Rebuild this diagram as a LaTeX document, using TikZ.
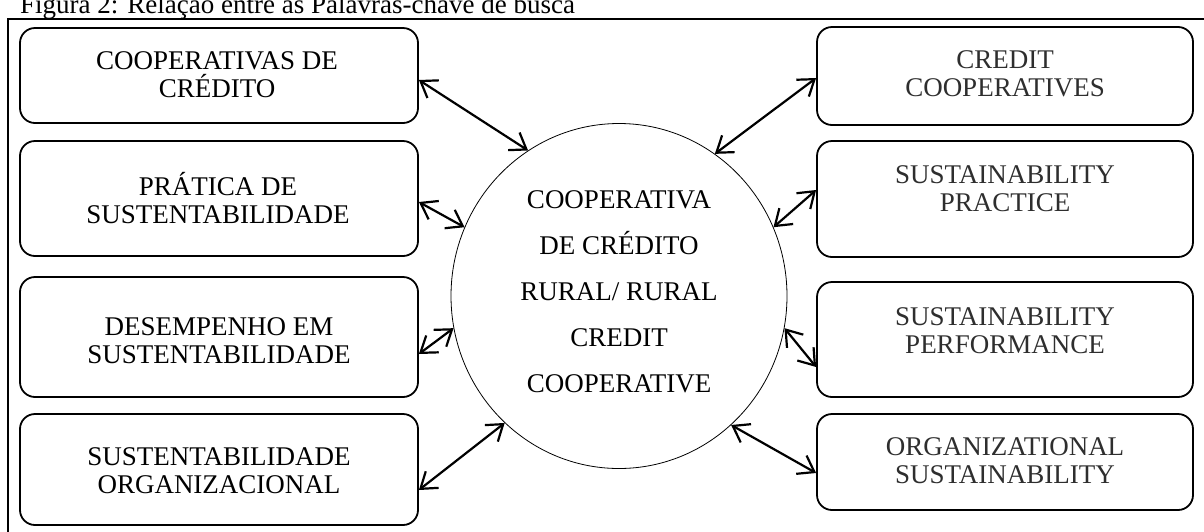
\documentclass[tikz,border=0pt]{standalone}
\usepackage{fontspec}
\setmainfont{Liberation Serif}
\usetikzlibrary{shapes.geometric,arrows.meta}
\tikzset{
  kbox/.style={draw, line width=1.8pt, rounded corners=15pt, minimum width=398pt, inner sep=0pt},
  rbox/.style={draw, line width=1.8pt, rounded corners=15pt, minimum width=376pt, inner sep=0pt},
  ltext/.style={align=center, inner sep=0pt, font=\fontsize{27}{28}\selectfont},
  rtext/.style={align=center, inner sep=0pt, text=black!82, font=\fontsize{27}{28}\selectfont},
  link/.style={line width=2.2pt, {Straight Barb[length=15pt,width=21pt]}-{Straight Barb[length=15pt,width=21pt]}},
}
\begin{document}
\begin{tikzpicture}[x=1pt,y=-1pt]
\useasboundingbox (0,0) rectangle (1204,531);
% title (cut at top)
\node[anchor=base west, inner sep=0pt, font=\fontsize{27}{30}\selectfont] (title) at (20,13) {Figura 2: Relação entre as Palavras-chave de busca};
% frame
\draw[line width=1.6pt] (8,550) -- (8,19) -- (1220,19);
% left boxes
\node[kbox, minimum height=95pt]  (b1) at (219,75.5) {};
\node[kbox, minimum height=115pt] (b2) at (219,198.5) {};
\node[kbox, minimum height=120pt] (b3) at (219,337) {};
\node[kbox, minimum height=111pt] (b4) at (219,469.5) {};
% right boxes
\node[rbox, minimum height=98pt]  (r1) at (1005,76) {};
\node[rbox, minimum height=116pt] (r2) at (1005,199) {};
\node[rbox, minimum height=115pt] (r3) at (1005,339.5) {};
\node[rbox, minimum height=96pt]  (r4) at (1005,462) {};
% texts
\node[ltext] (t1) at (217,75) {COOPERATIVAS DE\\CRÉDITO};
\node[ltext] (t2) at (218,198) {PRÁTICA DE\\SUSTENTABILIDADE};
\node[ltext] (t3) at (219,341) {DESEMPENHO EM\\SUSTENTABILIDADE};
\node[ltext] (t4) at (219,471) {SUSTENTABILIDADE\\ORGANIZACIONAL};
\node[rtext] (u1) at (1005,73.5) {CREDIT\\COOPERATIVES};
\node[rtext] (u2) at (1005,189) {SUSTAINABILITY\\PRACTICE};
\node[rtext] (u3) at (1005,330.5) {SUSTAINABILITY\\PERFORMANCE};
\node[rtext] (u4) at (1005,460.5) {ORGANIZATIONAL\\SUSTAINABILITY};
% centre
\node[draw, ellipse, line width=0.8pt, minimum width=336pt, minimum height=345pt, inner sep=0pt] (c) at (619,296) {};
\node[align=center, inner sep=0pt, font=\fontsize{27}{46}\selectfont] (ct) at (619,292) {COOPERATIVA\\DE CRÉDITO\\RURAL/ RURAL\\CREDIT\\COOPERATIVE};
% connectors
\draw[link] ([yshift=-4.5pt]b1.east) -- (c.122.5);
\draw[link] ([yshift=-3.5pt]b2.east) -- (c.156);
\draw[link] ([yshift=-17pt]b3.east) -- (c.191);
\draw[link] ([yshift=-20.5pt]b4.east) -- (c.228);
\draw[link] ([yshift=-2pt]r1.west) -- (c.56);
\draw[link] ([yshift=9pt]r2.west) -- (c.24);
\draw[link] ([yshift=-27.5pt]r3.west) -- (c.-11);
\draw[link] ([yshift=-11pt]r4.west) -- (c.-49);
\end{tikzpicture}
\end{document}
